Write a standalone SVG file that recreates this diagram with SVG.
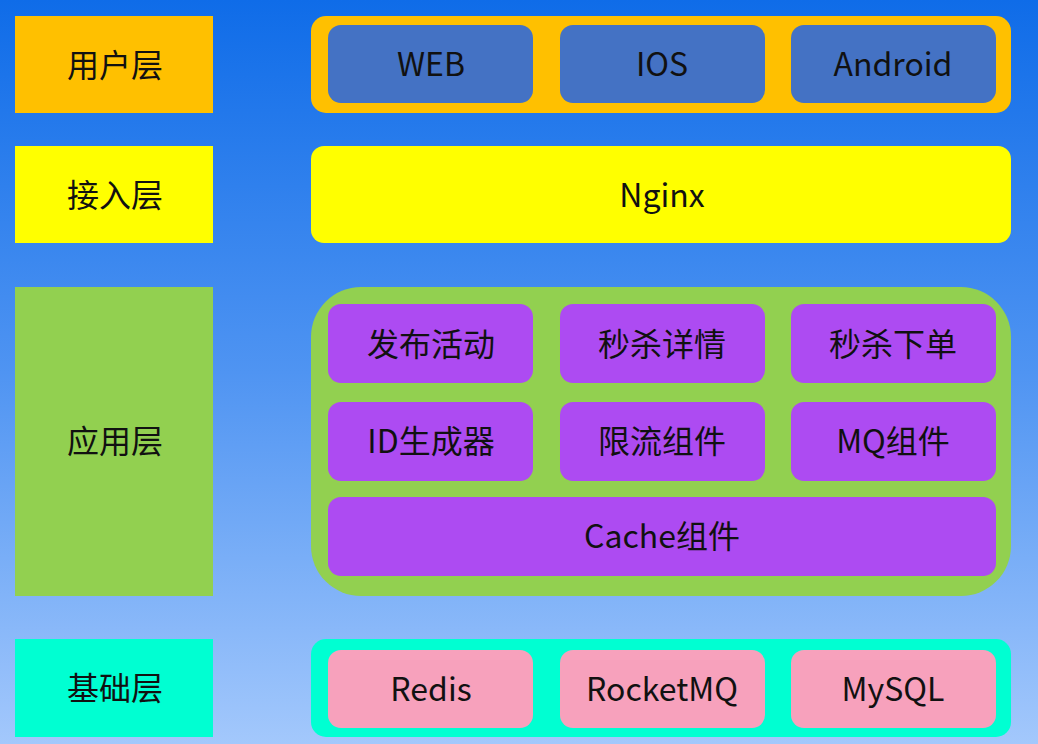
<svg xmlns="http://www.w3.org/2000/svg" width="1038" height="744" viewBox="0 0 1038 744">
<defs>
<linearGradient id="bg" x1="0" y1="0" x2="0" y2="1">
<stop offset="0" stop-color="#0f6ce8"/>
<stop offset="0.5" stop-color="#4f94f2"/>
<stop offset="1" stop-color="#a3c8fc"/>
</linearGradient>
<style>
text{font-family:"Microsoft YaHei","Noto Sans CJK SC","Noto Sans",sans-serif;font-size:32px;fill:#111;text-anchor:middle;dominant-baseline:central}
.blue{fill:#4472c4}
.purple{fill:#ad4bf2}
.pink{fill:#f7a1bc}
</style>
</defs>
<rect width="1038" height="744" fill="url(#bg)"/>
<g id="label-user"><rect x="15" y="16" width="198" height="97" fill="#ffc000"/><text x="115" y="63">用户层</text></g>
<g id="label-access"><rect x="15" y="146" width="198" height="97" fill="#ffff00"/><text x="115" y="193">接入层</text></g>
<g id="label-app"><rect x="15" y="287" width="198" height="309" fill="#92d050"/><text x="115" y="439">应用层</text></g>
<g id="label-base"><rect x="15" y="639" width="198" height="98" fill="#00ffd2"/><text x="115" y="686">基础层</text></g>

<g id="user-layer">
<rect x="311" y="16" width="700" height="97" rx="15" fill="#ffc000"/>
<g id="web"><rect class="blue" x="328" y="25" width="205" height="78" rx="13"/><text x="431" y="62">WEB</text></g>
<g id="ios"><rect class="blue" x="560" y="25" width="205" height="78" rx="13"/><text x="662" y="62">IOS</text></g>
<g id="android"><rect class="blue" x="791" y="25" width="205" height="78" rx="13"/><text x="893" y="62">Android</text></g>
</g>
<g id="nginx"><rect x="311" y="146" width="700" height="97" rx="13" fill="#ffff00"/><text x="662" y="193">Nginx</text></g>
<g id="app-layer">
<rect x="311" y="287" width="700" height="309" rx="50" fill="#92d050"/>
<g id="publish"><rect class="purple" x="328" y="304" width="205" height="79" rx="13"/><text x="431" y="342">发布活动</text></g>
<g id="detail"><rect class="purple" x="560" y="304" width="205" height="79" rx="13"/><text x="662" y="342">秒杀详情</text></g>
<g id="order"><rect class="purple" x="791" y="304" width="205" height="79" rx="13"/><text x="893" y="342">秒杀下单</text></g>
<g id="idgen"><rect class="purple" x="328" y="402" width="205" height="79" rx="13"/><text x="431" y="439">ID生成器</text></g>
<g id="ratelimit"><rect class="purple" x="560" y="402" width="205" height="79" rx="13"/><text x="662" y="439">限流组件</text></g>
<g id="mq"><rect class="purple" x="791" y="402" width="205" height="79" rx="13"/><text x="893" y="439">MQ组件</text></g>
<g id="cache"><rect class="purple" x="328" y="497" width="668" height="79" rx="13"/><text x="662" y="534">Cache组件</text></g>
</g>
<g id="base-layer">
<rect x="311" y="639" width="700" height="98" rx="15" fill="#00ffd2"/>
<g id="redis"><rect class="pink" x="328" y="650" width="205" height="78" rx="13"/><text x="431" y="687">Redis</text></g>
<g id="rocketmq"><rect class="pink" x="560" y="650" width="205" height="78" rx="13"/><text x="662" y="687">RocketMQ</text></g>
<g id="mysql"><rect class="pink" x="791" y="650" width="205" height="78" rx="13"/><text x="893" y="687">MySQL</text></g>
</g>
<g id="connectors"/>
</svg>
